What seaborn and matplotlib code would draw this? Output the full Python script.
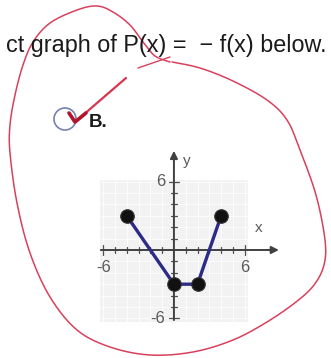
import numpy as np
import seaborn as sns
import matplotlib.pyplot as plt
from matplotlib.patches import Circle, Rectangle

sns.set_style('white')
plt.rcParams['font.family'] = ['Liberation Sans', 'DejaVu Sans']

# graph points of P(x) = -f(x)
px = [-4, 0, 2, 4]
py = [3, -3, -3, 3]
tick_vals = [-6, -5, -4, -3, -2, -1, 1, 2, 3, 4, 5, 6]
tick_labels = {-6: '-6', 6: '6'}

# hand drawn red loop (pixel coords, y down)
loop_x = [172, 200, 233, 267, 287, 300, 316, 325, 324, 314, 296, 267, 233, 193, 150,
          110, 77, 50, 30, 17, 10, 10, 15, 23, 33, 50, 77, 97, 113, 130, 143, 155, 170]
loop_y = [62, 68, 81, 100, 120, 150, 195, 240, 265, 285, 302, 322, 340, 352, 355,
          347, 330, 297, 253, 203, 153, 125, 95, 65, 42, 23, 10, 6, 12, 25, 42, 56, 62]


def smooth(xs, ys, n=12):
    # catmull-rom through the stroke points
    p = np.column_stack([xs, ys]).astype(float)
    p = np.vstack([p[0], p, p[-1]])
    out = []
    for i in range(1, len(p) - 2):
        p0, p1, p2, p3 = p[i - 1], p[i], p[i + 1], p[i + 2]
        for t in np.linspace(0, 1, n, endpoint=False):
            out.append(0.5 * (2 * p1 + (-p0 + p2) * t
                              + (2 * p0 - 5 * p1 + 4 * p2 - p3) * t ** 2
                              + (-p0 + 3 * p1 - 3 * p2 + p3) * t ** 3))
    out.append(p[-2])
    out = np.array(out)
    return out[:, 0], out[:, 1]


fig = plt.figure(figsize=(3.31, 3.58), dpi=100)

# overlay in pixel space for the question text and the pen marks
ov = fig.add_axes([0, 0, 1, 1])
ov.set_xlim(0, 331)
ov.set_ylim(358, 0)
ov.axis('off')

ov.text(326, 52, 'ct graph of P(x) =  \u2212 f(x) below.', fontsize=16.8,
        color='#1a1a1a', va='baseline', ha='right')
ov.text(89, 127, 'B.', fontsize=13.5, fontweight='bold', color='#1a1a1a', va='baseline')
ov.add_patch(Circle((65, 119), 11, fill=False, ec='#7482b4', lw=1.2))

lx, ly = smooth(loop_x, loop_y)
ov.plot(lx, ly, color='#d9405c', lw=1.1, solid_capstyle='round')
ov.plot([138, 170], [68, 57], color='#d9405c', lw=1.0)
# check mark
ov.plot([69, 75, 126], [113, 122, 78], color='#d8354f', lw=1.6, solid_joinstyle='round')
ov.plot([69, 75, 86], [113, 122, 113], color='#b3142c', lw=2.6, solid_joinstyle='round')

# coordinate graph
ax = fig.add_axes([0.276, 0.0788, 0.588, 0.5254])
ax.set_xlim(-7, 9.5)
ax.set_ylim(-7, 9.5)
ax.patch.set_alpha(0)
ax.axis('off')

ax.add_patch(Rectangle((-6.3, -6.3), 12.6, 12.4, fc='#f2f2f2', ec='none', zorder=0))
for v in range(-6, 7):
    ax.axvline(v, ymin=(-6.3 + 7) / 16.5, ymax=(6.1 + 7) / 16.5, color='#fbfbfb', lw=0.8, zorder=0.5)
    ax.axhline(v, xmin=(-6.3 + 7) / 16.5, xmax=(6.3 + 7) / 16.5, color='#fbfbfb', lw=0.8, zorder=0.5)

ax.annotate('', xy=(8.9, 0), xytext=(-6.2, 0),
            arrowprops=dict(arrowstyle='-|>', color='#404040', lw=1.4, mutation_scale=11,
                            shrinkA=0, shrinkB=0))
ax.annotate('', xy=(0, 8.7), xytext=(0, -6.15),
            arrowprops=dict(arrowstyle='-|>', color='#404040', lw=1.4, mutation_scale=11,
                            shrinkA=0, shrinkB=0))
for v in tick_vals:
    h = 0.45 if v in tick_labels else 0.28
    ax.plot([v, v], [-h, h], color='#505050', lw=0.9)
    ax.plot([-h, h], [v, v], color='#505050', lw=0.9)

for v, s in tick_labels.items():
    ax.text(v, -0.9, s, ha='center', va='top', fontsize=12, color='#5a5a5a')
    ax.text(-0.75, v, s, ha='right', va='center', fontsize=12, color='#5a5a5a')
ax.text(7.2, 1.9, 'x', ha='center', va='center', fontsize=11, color='#5a5a5a')
ax.text(1.1, 7.8, 'y', ha='center', va='center', fontsize=11, color='#5a5a5a')

sns.lineplot(x=px, y=py, sort=False, color='#2c2c88', lw=2.4, ax=ax, zorder=3)
sns.scatterplot(x=px, y=py, s=95, color='#111111', edgecolor='#333333', linewidth=0.8,
                ax=ax, zorder=4)

fig.savefig('out.png', dpi=100)
